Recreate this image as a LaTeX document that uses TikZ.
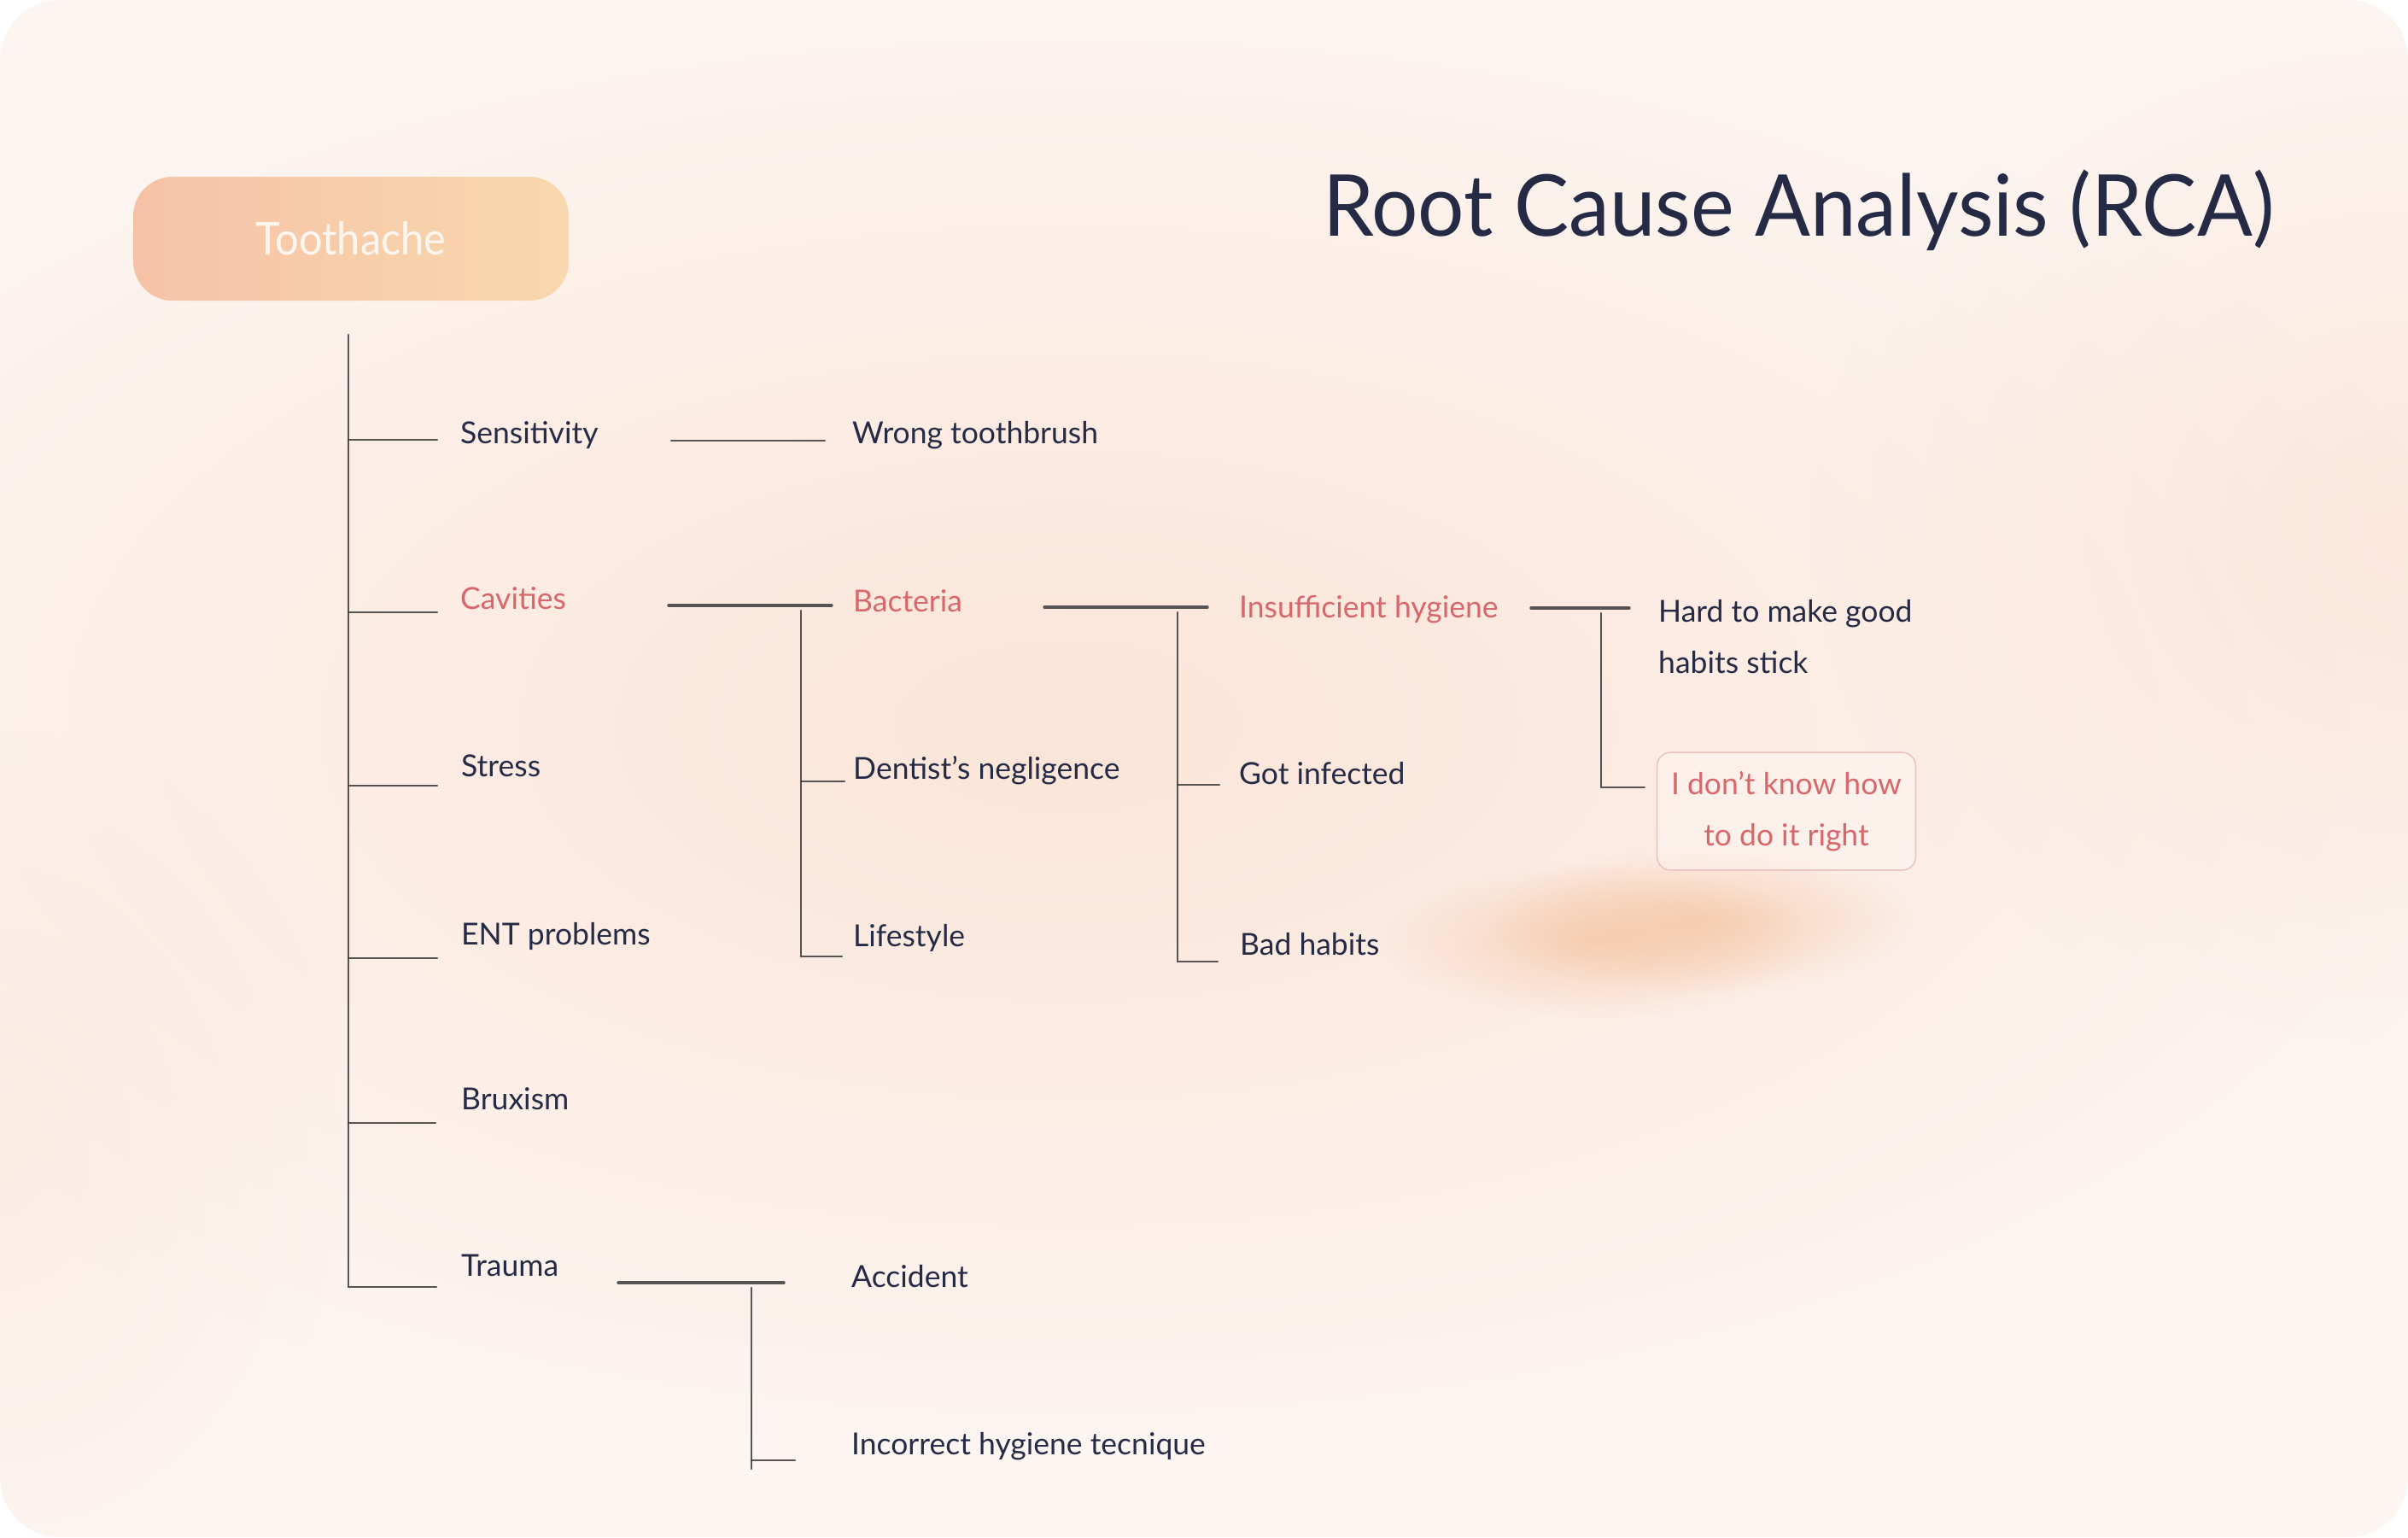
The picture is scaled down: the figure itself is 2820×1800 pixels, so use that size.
\documentclass[tikz,border=0pt]{standalone}
\usepackage{fontspec}
\usepackage{graphicx}
\setmainfont{Lato}
\usetikzlibrary{fadings}
\tikzfading[name=softout, inner color=transparent!0, outer color=transparent!100]
\definecolor{ink}{HTML}{262B45}
\definecolor{rose}{HTML}{D8676B}
\definecolor{pencilgray}{HTML}{3A3A3A}
\definecolor{bgbase}{HTML}{FDF5F1}
\definecolor{peach}{HTML}{FAD8C4}
\definecolor{blob}{HTML}{F3C09C}
\definecolor{boxline}{HTML}{EBC5BF}
\definecolor{rootleft}{HTML}{F6C2A7}
\definecolor{rootright}{HTML}{F8D8AE}
\definecolor{roottext}{HTML}{FFF7EF}
\tikzset{
  lbl/.style={anchor=base west, inner sep=0pt, font=\fontsize{35.5}{60}\selectfont, text=ink},
  hot/.style={lbl, text=rose},
  sketch/.style={draw=pencilgray, line width=2.4pt, line cap=round, opacity=.85},
  bar/.style={sketch, line width=3.4pt},
}
\begin{document}
\begin{tikzpicture}[x=1pt,y=-1pt]
\useasboundingbox (0,0) rectangle (2820,1800);
\fill[white] (0,0) rectangle (2820,1800);
\begin{scope}
  \clip[rounded corners=70pt] (0,0) rectangle (2820,1800);
  \fill[bgbase] (0,0) rectangle (2820,1800);
  \fill[peach, opacity=.55, path fading=softout] (1250,850) ellipse (1700 and 850);
  \fill[peach, opacity=.45, path fading=softout] (2820,620) ellipse (700 and 600);
  \fill[peach, opacity=.25, path fading=softout] (0,1350) ellipse (400 and 500);
  \fill[blob, opacity=.6, path fading=softout] (1870,1102) ellipse (250 and 90);
  \fill[blob, opacity=.6, path fading=softout] (1995,1078) ellipse (250 and 85);
\end{scope}

% title and root
\node[anchor=base west, inner sep=0pt, font=\fontsize{100}{110}\selectfont, text=ink] (title) at (1549,276) {\scalebox{0.96}[1]{Root Cause Analysis (RCA)}};
\node[rounded corners=46pt, left color=rootleft, right color=rootright, minimum width=510pt, minimum height=145pt, inner sep=0pt, text=roottext, font=\fontsize{53}{60}\selectfont] (root) at (411,279.5) {\scalebox{0.92}[1]{Toothache}};

% level 1
\node[lbl] (sens)   at (539,519)  {Sensitivity};
\node[hot] (cav)    at (539,713)  {Cavities};
\node[lbl] (stress) at (540,909)  {Stress};
\node[lbl] (ent)    at (540,1106) {ENT problems};
\node[lbl] (brux)   at (540,1299) {Bruxism};
\node[lbl] (trauma) at (540,1494) {Trauma};

% level 2
\node[lbl] (wrong) at (998,519)  {Wrong toothbrush};
\node[hot] (bact)  at (999,716)  {Bacteria};
\node[lbl] (dent)  at (999,912)  {Dentist’s negligence};
\node[lbl] (life)  at (999,1108) {Lifestyle};
\node[lbl] (acc)   at (997,1507) {Accident};
\node[lbl] (inc)   at (997,1703) {Incorrect hygiene tecnique};

% level 3
\node[hot] (insuf) at (1451,723)  {Insufficient hygiene};
\node[lbl] (got)   at (1451,918)  {Got infected};
\node[lbl] (bad)   at (1452,1118) {Bad habits};

% level 4
\node[lbl, align=left] (hard) at (1942,788) {Hard to make good\\habits stick};
\node[draw=boxline, line width=1.6pt, rounded corners=16pt, fill=white, fill opacity=.25, text opacity=1,
      minimum width=303pt, minimum height=138pt, inner sep=0pt, align=center, text=rose,
      font=\fontsize{35.5}{60}\selectfont] (idk) at (2092,950) {I don’t know how\\to do it right};

% connector coordinates
\coordinate (t0) at (408,392);
\coordinate (t1) at (408,515);  \coordinate (e1) at (512,515);
\coordinate (t2) at (408,717);  \coordinate (e2) at (512,717);
\coordinate (t3) at (408,920);  \coordinate (e3) at (512,920);
\coordinate (t4) at (408,1122); \coordinate (e4) at (512,1122);
\coordinate (t5) at (408,1315); \coordinate (e5) at (510,1315);
\coordinate (t6) at (408,1507); \coordinate (e6) at (511,1507);

\coordinate (sw0) at (786,516); \coordinate (sw1) at (966,516);

\coordinate (cb0) at (783,709); \coordinate (cb1) at (974,709);
\coordinate (cbv0) at (938,715); \coordinate (cbv1) at (938,915); \coordinate (cbv2) at (938,1120);
\coordinate (cbs1) at (989,915); \coordinate (cbs2) at (986,1120);

\coordinate (bi0) at (1223,711); \coordinate (bi1) at (1414,711);
\coordinate (biv0) at (1379,717); \coordinate (biv1) at (1379,919); \coordinate (biv2) at (1379,1126);
\coordinate (bis1) at (1428,919); \coordinate (bis2) at (1426,1126);

\coordinate (ih0) at (1793,712); \coordinate (ih1) at (1908,712);
\coordinate (ihv0) at (1875,718); \coordinate (ihv1) at (1875,922);
\coordinate (ihs1) at (1926,922);

\coordinate (ta0) at (724,1502); \coordinate (ta1) at (918,1502);
\coordinate (tav0) at (880,1508); \coordinate (tav1) at (880,1710); \coordinate (tav2) at (880,1720);
\coordinate (tas1) at (931,1710);

% trunk
\draw[sketch] (t0) -- (t6) -- (e6);
\draw[sketch] (t1) -- (e1);
\draw[sketch] (t2) -- (e2);
\draw[sketch] (t3) -- (e3);
\draw[sketch] (t4) -- (e4);
\draw[sketch] (t5) -- (e5);

% sensitivity -> wrong toothbrush
\draw[sketch] (sw0) -- (sw1);

% cavities -> bacteria etc.
\draw[bar] (cb0) -- (cb1);
\draw[sketch] (cbv0) -- (cbv2) -- (cbs2);
\draw[sketch] (cbv1) -- (cbs1);

% bacteria -> insufficient hygiene etc.
\draw[bar] (bi0) -- (bi1);
\draw[sketch] (biv0) -- (biv2) -- (bis2);
\draw[sketch] (biv1) -- (bis1);

% insufficient hygiene -> hard / idk
\draw[bar] (ih0) -- (ih1);
\draw[sketch] (ihv0) -- (ihv1) -- (ihs1);

% trauma -> accident / incorrect
\draw[bar] (ta0) -- (ta1);
\draw[sketch] (tav0) -- (tav2);
\draw[sketch] (tav1) -- (tas1);
\end{tikzpicture}
\end{document}
